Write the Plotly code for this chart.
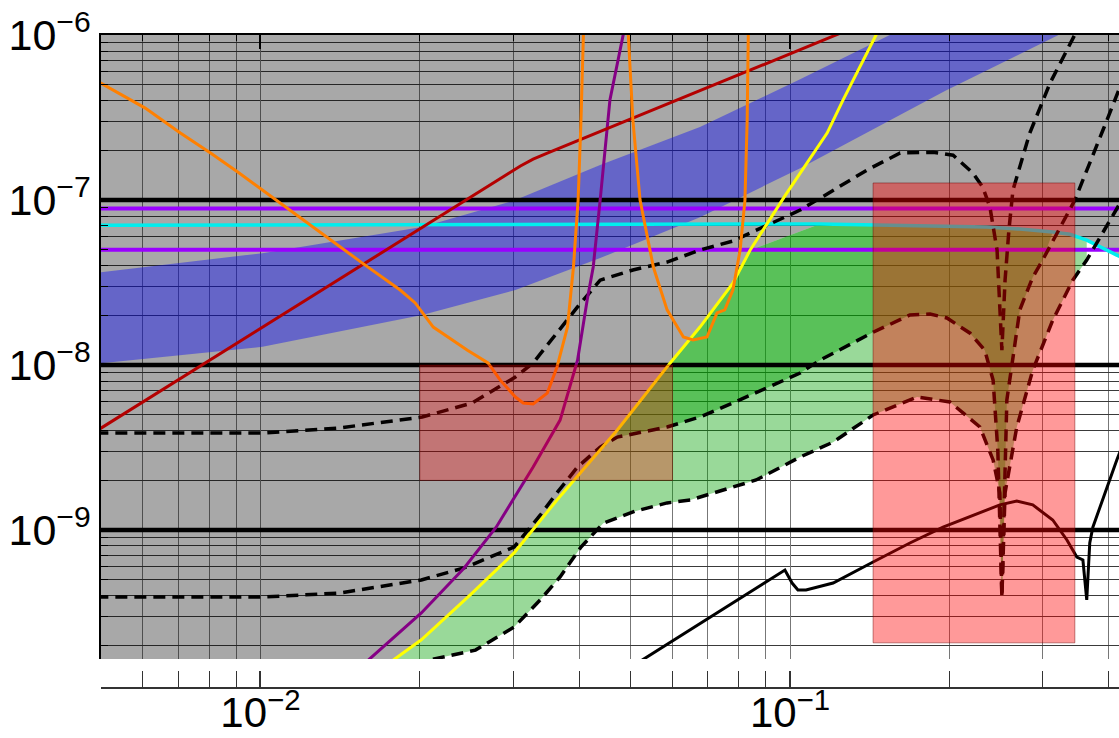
import numpy as np
import plotly.graph_objects as go

# ---------------- axes ----------------
x_range = [0.005, 0.418]
y_range = [1.652e-10, 1.002e-6]
x_major = [0.01, 0.1]
x_major_text = ["10<sup>\u22122</sup>", "10<sup>\u22121</sup>"]
y_major = [1e-9, 1e-8, 1e-7, 1e-6]
y_major_text = ["10<sup>\u22129</sup>", "10<sup>\u22128</sup>", "10<sup>\u22127</sup>", "10<sup>\u22126</sup>"]
x_minor = [m * 10.0 ** e for e in (-3, -2, -1) for m in range(2, 10)
           if x_range[0] * 0.999 <= m * 10.0 ** e <= x_range[1]]
y_minor = [m * 10.0 ** e for e in (-10, -9, -8, -7) for m in range(2, 10)
           if y_range[0] <= m * 10.0 ** e <= y_range[1]]

# ---------------- horizontal reference lines ----------------
black_levels = [1e-7, 1e-8, 1e-9]
violet_levels = [8.9e-8, 5.0e-8]

# ---------------- curves ----------------
cyan_x = [0.0049, 0.1139, 0.2353, 0.2716, 0.3134, 0.3375, 0.3633, 0.3846, 0.414, 0.4285]
cyan_y = [7.05e-8, 7.16e-8, 6.86e-8, 6.67e-8, 6.4e-8, 6.21e-8, 5.72e-8, 5.19e-8, 4.64e-8, 4.4e-8]

orange_x = [0.0049, 0.00606, 0.00706, 0.00805, 0.00906, 0.01009, 0.01253, 0.01558, 0.01836, 0.0196,
            0.0212, 0.02233, 0.0246, 0.0269, 0.02837, 0.0303, 0.03135, 0.03273, 0.0348, 0.0363,
            0.0380, 0.0390, 0.0398, 0.0403, 0.0407, 0.0409, 0.0491, 0.0495, 0.0505, 0.0521,
            0.0552, 0.0586, 0.0629, 0.0656, 0.0697, 0.0728, 0.0753, 0.0780, 0.0805, 0.0822,
            0.0830, 0.0834, 0.0834]
orange_y = [5.3e-7, 3.61e-7, 2.55e-7, 1.93e-7, 1.48e-7, 1.15e-7, 6.86e-8, 4.15e-8, 2.85e-8, 2.38e-8,
            1.70e-8, 1.52e-8, 1.23e-8, 1.03e-8, 8.1e-9, 6.4e-9, 5.89e-9, 5.81e-9, 6.76e-9, 9.7e-9,
            1.70e-8, 3.93e-8, 1.0e-7, 3.05e-7, 1.0e-6, 1.63e-6, 1.63e-6, 1.0e-6, 3.05e-7, 1.0e-7,
            3.93e-8, 2.16e-8, 1.48e-8, 1.42e-8, 1.48e-8, 2.07e-8, 2.16e-8, 2.85e-8, 4.98e-8, 1.0e-7,
            3.05e-7, 1.0e-6, 1.63e-6]

darkred_x = [0.0049, 0.03097, 0.03273, 0.0349, 0.1206, 0.1355]
darkred_y = [3.98e-9, 1.61e-7, 1.77e-7, 1.93e-7, 9.86e-7, 1.15e-6]

purple_x = [0.01503, 0.0160, 0.02013, 0.02425, 0.02787, 0.0300, 0.03273, 0.0368, 0.0397, 0.0414,
            0.0425, 0.0438, 0.0457, 0.0484, 0.0491]
purple_y = [1.4e-10, 1.63e-10, 3.14e-10, 5.89e-10, 1.04e-9, 1.52e-9, 2.41e-9, 4.64e-9, 1.07e-8, 2.48e-8,
            3.93e-8, 1.0e-7, 4.04e-7, 1.0e-6, 1.23e-6]

yellow_x = [0.0168, 0.01782, 0.02013, 0.0249, 0.03013, 0.0363, 0.0472, 0.0594, 0.0676, 0.0780,
            0.0841, 0.0978, 0.1175, 0.1259, 0.146]
yellow_y = [1.42e-10, 1.63e-10, 2.16e-10, 4.04e-10, 7.26e-10, 1.52e-9, 4.04e-9, 1.03e-8, 1.70e-8, 3.14e-8,
            4.98e-8, 1.06e-7, 2.55e-7, 4.04e-7, 1.03e-6]

dashA_x = [0.0049, 0.01009, 0.01403, 0.0202, 0.0251, 0.0303, 0.03273, 0.0363, 0.0397, 0.0438,
           0.0505, 0.0586, 0.0676, 0.078, 0.1045, 0.1124, 0.1397, 0.1614, 0.1862, 0.2032,
           0.2215, 0.2311, 0.2385, 0.2460, 0.2490, 0.2512, 0.2547, 0.2590, 0.2636, 0.2836,
           0.3097, 0.3404, 0.3524]
dashA_y = [3.87e-9, 3.87e-9, 4.15e-9, 4.84e-9, 5.89e-9, 8.46e-9, 1.03e-8, 1.56e-8, 2.25e-8, 3.27e-8,
           3.77e-8, 4.21e-8, 4.98e-8, 5.65e-8, 8.7e-8, 1.0e-7, 1.52e-7, 1.93e-7, 1.95e-7, 1.87e-7,
           1.46e-7, 1.20e-7, 9.07e-8, 4.98e-8, 2.48e-8, 1.23e-8, 3.27e-8, 6.58e-8, 1.15e-7, 2.55e-7,
           5.12e-7, 9.3e-7, 1.15e-6]

dashB_x = [0.0049, 0.01018, 0.0141, 0.02013, 0.02425, 0.03013, 0.03375, 0.0363, 0.0397, 0.0438,
           0.0472, 0.0586, 0.0676, 0.078, 0.1045, 0.1139, 0.1435, 0.1684, 0.1838, 0.1978,
           0.2188, 0.2332, 0.2418, 0.2468, 0.2512, 0.2535, 0.2567, 0.2716, 0.2873, 0.2999,
           0.345, 0.3899, 0.414, 0.4285]
dashB_y = [3.93e-10, 3.93e-10, 4.15e-10, 4.98e-10, 5.89e-10, 7.89e-10, 1.23e-9, 1.68e-9, 2.41e-9, 3.18e-9,
           3.66e-9, 4.21e-9, 4.84e-9, 5.89e-9, 8.95e-9, 1.07e-8, 1.58e-8, 2.01e-8, 2.04e-8, 1.93e-8,
           1.56e-8, 1.23e-8, 8.1e-9, 3.05e-9, 3.93e-10, 1.52e-9, 6.14e-9, 2.16e-8, 3.41e-8, 4.33e-8,
           1.0e-7, 2.66e-7, 4.33e-7, 5.72e-7]

dashC_x = [0.0196, 0.02085, 0.02547, 0.03013, 0.03375, 0.0368, 0.0403, 0.0444, 0.0510, 0.0586,
           0.0648, 0.078, 0.0863, 0.1045, 0.1206, 0.1435, 0.1737, 0.2004, 0.2283, 0.2418,
           0.2490, 0.2512, 0.2547, 0.268, 0.2873, 0.3134, 0.3419, 0.3633, 0.3846, 0.414, 0.4285]
dashC_y = [1.5e-10, 1.63e-10, 1.87e-10, 2.58e-10, 3.77e-10, 5.19e-10, 7.89e-10, 1.10e-9, 1.30e-9, 1.46e-9,
           1.52e-9, 1.82e-9, 2.01e-9, 2.77e-9, 3.41e-9, 4.98e-9, 6.4e-9, 5.97e-9, 4.21e-9, 2.66e-9,
           1.68e-9, 3.93e-10, 1.68e-9, 4.21e-9, 9.3e-9, 1.87e-8, 3.27e-8, 4.33e-8, 5.89e-8, 8.7e-8, 1.07e-7]

solid_x = [0.0488, 0.0526, 0.0978, 0.1009, 0.1035, 0.1072, 0.1206, 0.1435, 0.1684, 0.1945,
           0.2490, 0.268, 0.2873, 0.3134, 0.3333, 0.3480, 0.3573, 0.3633, 0.3681, 0.3731,
           0.3966, 0.414, 0.4285]
solid_y = [1.4e-10, 1.63e-10, 5.72e-10, 4.77e-10, 4.33e-10, 4.33e-10, 4.77e-10, 6.4e-10, 8.34e-10, 1.04e-9,
           1.42e-9, 1.50e-9, 1.42e-9, 1.15e-9, 8.7e-10, 6.86e-10, 6.58e-10, 3.77e-10, 8.34e-10, 1.04e-9,
           1.82e-9, 2.66e-9, 3.51e-9]

# blue band edges
blue_up_x = [0.0049, 0.01009, 0.0202, 0.0303, 0.0438, 0.0676, 0.1045, 0.1545, 0.1684]
blue_up_y = [3.62e-8, 4.77e-8, 6.86e-8, 1.0e-7, 1.63e-7, 2.77e-7, 5.41e-7, 1.0e-6, 1.15e-6]
blue_lo_x = [0.0049, 0.01009, 0.0202, 0.0303, 0.0438, 0.0676, 0.1045, 0.1961, 0.3206, 0.3524]
blue_lo_y = [1.02e-8, 1.29e-8, 2.01e-8, 2.85e-8, 4.45e-8, 7.88e-8, 1.56e-7, 4.58e-7, 1.0e-6, 1.2e-6]

# red boxes
box1_x = [0.1435, 0.345]
box1_y = [2.07e-10, 1.27e-7]
box2_x = [0.02, 0.06]
box2_y = [2.0e-9, 1.0e-8]


# ---------------- helpers ----------------
def lg(a):
    return np.log10(np.asarray(a, dtype=float))


def at(xq, xs, ys):
    return 10 ** np.interp(lg(xq), lg(xs), lg(ys))


YX, YY = np.array(yellow_x), np.array(yellow_y)
CX, CY = np.array(cyan_x), np.array(cyan_y)
BX, BY = np.array(dashB_x), np.array(dashB_y)
LX, LY = np.array(dashC_x), np.array(dashC_y)

x_lo, x_hi = x_range[0] / 1.3, x_range[1] * 1.3
y_lo, y_hi = y_range[0] / 1.5, y_range[1] * 1.5

# excluded (grey) region: above the cyan curve or left of the yellow curve
m_y = YY < at(YX, CX, CY)
m_c = CY < at(CX, YX, YY)
grey_x = [x_lo, x_hi] + list(CX[m_c][::-1]) + list(YX[m_y][::-1]) + [x_lo]
grey_y = [y_hi, y_hi] + list(CY[m_c][::-1]) + list(YY[m_y][::-1]) + [y_lo]

# light green: right of yellow, below cyan, above curve C
m_cc = m_c & (CY > at(CX, LX, LY))
m_l = (LY < at(LX, CX, CY)) & (LY < at(LX, YX, YY))
lg_x = list(YX[m_y]) + list(CX[m_cc]) + list(LX[m_l][::-1])
lg_y = list(YY[m_y]) + list(CY[m_cc]) + list(LY[m_l][::-1])

# dark green: right of yellow, below cyan, above curve B
m_yb = m_y & (YY > at(YX, BX, BY))
m_cb = m_c & (CY > at(CX, BX, BY))
m_b = (BY < at(BX, CX, CY)) & (BY < at(BX, YX, YY))
dg_x = list(YX[m_yb]) + list(CX[m_cb]) + list(BX[m_b][::-1])
dg_y = list(YY[m_yb]) + list(CY[m_cb]) + list(BY[m_b][::-1])

blue_x = list(blue_up_x) + list(blue_lo_x[::-1])
blue_y = list(blue_up_y) + list(blue_lo_y[::-1])

fig = go.Figure()


def poly(x, y, color, line=None):
    fig.add_trace(go.Scatter(x=x, y=y, mode="lines", fill="toself", fillcolor=color,
                             line=line or dict(width=0), hoverinfo="skip", showlegend=False))


def curve(x, y, color, width=3, dash=None):
    fig.add_trace(go.Scatter(x=x, y=y, mode="lines",
                             line=dict(color=color, width=width, dash=dash),
                             hoverinfo="skip", showlegend=False))


poly(grey_x, grey_y, "rgba(0,0,0,0.34)")
poly(blue_x, blue_y, "rgba(20,20,240,0.45)")
poly(lg_x, lg_y, "rgba(0,160,0,0.40)")
poly(dg_x, dg_y, "rgba(0,160,0,0.42)")

for lev in black_levels:
    curve([x_lo, x_hi], [lev, lev], "black", width=4.5)
for lev in violet_levels:
    curve([x_lo, x_hi], [lev, lev], "#9a00ff", width=4)
curve(cyan_x, cyan_y, "#00eeee", width=3.5)

dash_style = "12px,7px"
curve(dashA_x, dashA_y, "black", 3.5, dash_style)
curve(dashB_x, dashB_y, "black", 3.5, dash_style)
curve(dashC_x, dashC_y, "black", 3.5, dash_style)
curve(solid_x, solid_y, "black", 3)
curve(yellow_x, yellow_y, "#ffff00", 3)
curve(purple_x, purple_y, "#850085", 3)
curve(darkred_x, darkred_y, "#b40000", 3)
curve(orange_x, orange_y, "#ff8000", 3)

for bx, by, a in ((box2_x, box2_y, 0.30), (box1_x, box1_y, 0.40)):
    poly([bx[0], bx[1], bx[1], bx[0], bx[0]], [by[0], by[0], by[1], by[1], by[0]],
         "rgba(255,0,0,%.2f)" % a, line=dict(color="rgba(110,0,0,0.45)", width=1))

# invisible trace so that the top (mirror) axis is drawn
fig.add_trace(go.Scatter(x=[x_range[0]], y=[y_range[0]], xaxis="x2", yaxis="y", mode="markers",
                         marker=dict(opacity=0), hoverinfo="skip", showlegend=False))

lx = [np.log10(x_range[0]), np.log10(x_range[1])]
ly = [np.log10(y_range[0]), np.log10(y_range[1])]

fig.update_layout(
    width=1119, height=738,
    autosize=False,
    margin=dict(l=101, r=0, t=35, b=50, autoexpand=False),
    paper_bgcolor="white", plot_bgcolor="white",
    showlegend=False,
    font=dict(family="Liberation Sans, Arial, sans-serif", color="black"),
    xaxis=dict(type="log", range=lx, anchor="free", position=0, automargin=False,
               tickmode="array", tickvals=x_major, ticktext=x_major_text,
               ticks="inside", ticklen=16, tickwidth=1.5, tickcolor="#333",
               ticklabelstandoff=-12,
               showline=True, linecolor="#333", linewidth=2,
               showgrid=True, gridcolor="#777777", gridwidth=1, zeroline=False,
               tickfont=dict(size=42, color="black"),
               minor=dict(tickmode="array", tickvals=x_minor, ticks="inside", ticklen=16,
                          tickwidth=1.2, tickcolor="#333", showgrid=True,
                          gridcolor="#777777", gridwidth=1)),
    xaxis2=dict(type="log", range=lx, overlaying="x", anchor="y", side="top", automargin=False,
                tickmode="array", tickvals=x_major, ticks="inside", ticklen=14, tickwidth=1.5,
                tickcolor="black", showticklabels=False, showline=True, linecolor="black",
                linewidth=1.5, showgrid=False, zeroline=False,
                minor=dict(tickmode="array", tickvals=x_minor, ticks="inside", ticklen=6,
                           tickwidth=1.2, tickcolor="black", showgrid=False)),
    yaxis=dict(type="log", range=ly, domain=[29 / 653, 1], automargin=False,
               tickmode="array", tickvals=y_major, ticktext=y_major_text,
               ticks="inside", ticklen=7, tickwidth=1.5, tickcolor="black",
               showline=True, linecolor="black", linewidth=1.5,
               showgrid=True, gridcolor="#3a3a3a", gridwidth=1, zeroline=False,
               tickfont=dict(size=43, color="black"),
               minor=dict(tickmode="array", tickvals=y_minor, ticks="inside", ticklen=7,
                          tickwidth=1.2, tickcolor="black", showgrid=True,
                          gridcolor="#3a3a3a", gridwidth=1)),
)

fig.write_html("out.html")
